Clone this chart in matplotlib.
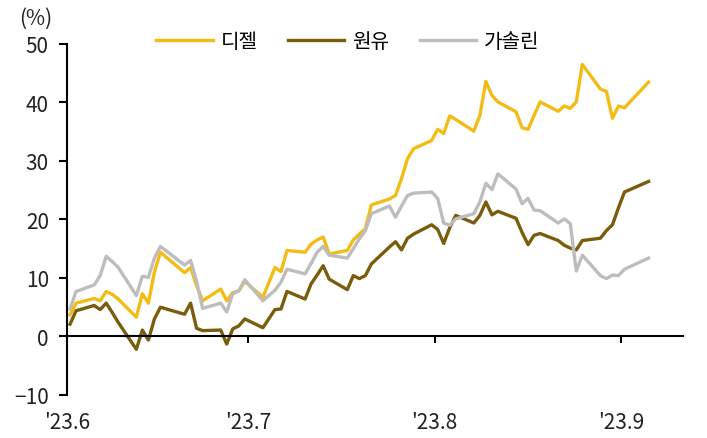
import matplotlib
matplotlib.use("Agg")
import matplotlib.pyplot as plt
import pandas as pd

plt.rcParams['font.family'] = ['Noto Sans CJK KR', 'DejaVu Sans']

# trading days (Jun 1 ~ Sep 5, 2023)
dates = (
    ["2023-06-%02d" % d for d in [1, 2, 5, 6, 7, 8, 9, 12, 13, 14, 15, 16, 20, 21, 22, 23, 26, 27, 28, 29, 30]]
    + ["2023-07-%02d" % d for d in [3, 5, 6, 7, 10, 11, 12, 13, 14, 17, 18, 19, 20, 21, 24, 25, 26, 27, 28, 31]]
    + ["2023-08-%02d" % d for d in [1, 2, 3, 4, 7, 8, 9, 10, 11, 14, 15, 16, 17, 18, 21, 22, 23, 24, 25, 28, 29, 30, 31]]
    + ["2023-09-01", "2023-09-05"]
)

diesel = [3.7, 5.7, 6.5, 6.1, 7.7, 7.2, 6.4, 3.3, 7.3, 5.7, 11.0, 14.4, 10.9, 11.8, 8.7, 6.1, 8.1, 6.1, 7.5, 7.8, 9.4,
          6.7, 11.8, 11.1, 14.7, 14.4, 15.8, 16.5, 17.0, 14.1, 14.7, 16.5, 17.5, 18.4, 22.5, 23.5, 24.1, 27.0, 30.4, 32.1, 33.5,
          35.4, 34.7, 37.7, 37.1, 35.1, 37.8, 43.6, 41.2, 40.1, 38.4, 35.7, 35.4, 37.8, 40.1, 38.5, 39.4, 39.0, 40.1, 46.5,
          42.3, 41.9, 37.3, 39.4,
          39.1, 43.5]

crude = [2.1, 4.4, 5.3, 4.6, 5.7, 4.1, 2.4, -2.2, 1.1, -0.6, 3.0, 5.0, 3.8, 5.7, 1.4, 1.0, 1.1, -1.3, 1.3, 1.8, 3.0,
         1.5, 4.6, 4.7, 7.7, 6.4, 9.0, 10.5, 12.1, 9.8, 8.0, 10.4, 9.9, 10.4, 12.4, 15.3, 16.2, 14.8, 16.8, 17.5, 19.1,
         18.3, 15.9, 18.6, 20.7, 19.4, 20.7, 23.0, 20.8, 21.4, 20.2, 17.8, 15.7, 17.3, 17.6, 16.4, 15.6, 15.1, 14.8, 16.4,
         16.8, 18.1, 19.1, 22.0,
         24.7, 26.5]

gasoline = [4.7, 7.7, 8.8, 10.4, 13.7, 12.8, 11.8, 7.0, 10.3, 10.1, 13.4, 15.4, 12.2, 13.0, 9.4, 4.8, 5.7, 4.2, 7.3, 7.8, 9.7,
            6.1, 7.9, 9.3, 11.5, 10.7, 12.5, 14.4, 15.4, 13.9, 13.4, 15.0, 16.7, 18.1, 21.0, 22.3, 20.4, 22.3, 24.1, 24.5, 24.7,
            23.6, 19.4, 19.0, 20.1, 21.0, 23.0, 26.2, 25.1, 27.8, 25.2, 22.7, 23.6, 21.6, 21.5, 19.4, 20.1, 19.3, 11.2, 13.9,
            10.4, 9.9, 10.5, 10.4,
            11.5, 13.4]

labels = ["디젤", "원유", "가솔린"]
colors = ["#F3BC14", "#7A5C0C", "#BDBDBD"]
tick_dates = ["2023-06-01", "2023-07-01", "2023-08-01", "2023-09-01"]
tick_labels = ["'23.6", "'23.7", "'23.8", "'23.9"]

x = pd.to_datetime(dates) + pd.Timedelta(hours=12)

fig = plt.figure(figsize=(7.07, 4.39), dpi=100)
ax = fig.add_axes([0.0948, 0.098, 0.8712, 0.7995])

lines = []
for vals, lab, c in zip([diesel, crude, gasoline], labels, colors):
    ln, = ax.plot(x, vals, color=c, lw=2.4, label=lab)
    lines.append(ln)

ax.set_ylim(-10, 50)
ax.set_yticks(range(-10, 51, 10))
ax.set_xlim(pd.Timestamp("2023-06-01"), pd.Timestamp("2023-06-01") + pd.Timedelta(days=102.2))
ax.set_xticks(pd.to_datetime(tick_dates))
ax.set_xticklabels(tick_labels)

for s in ["top", "right"]:
    ax.spines[s].set_visible(False)
ax.spines["bottom"].set_position(("data", 0))
ax.spines["bottom"].set_linewidth(1.5)
ax.spines["left"].set_linewidth(1.5)

ax.tick_params(axis="y", direction="out", length=6, width=1.5, labelsize=15, pad=7, labelcolor="#222222")
ax.tick_params(axis="x", direction="out", length=5, width=1.5, labelsize=15, pad=49, labelcolor="#222222")

fig.text(0.05, 0.957, "(%)", fontsize=15, ha="center", va="center", color="#222222")

fig.legend(handles=lines, loc="center", bbox_to_anchor=(0.492, 0.904), ncol=3, frameon=False,
           fontsize=14.5, handlelength=2.8, handletextpad=0.4, columnspacing=1.5)

fig.savefig("out.png", dpi=100)
